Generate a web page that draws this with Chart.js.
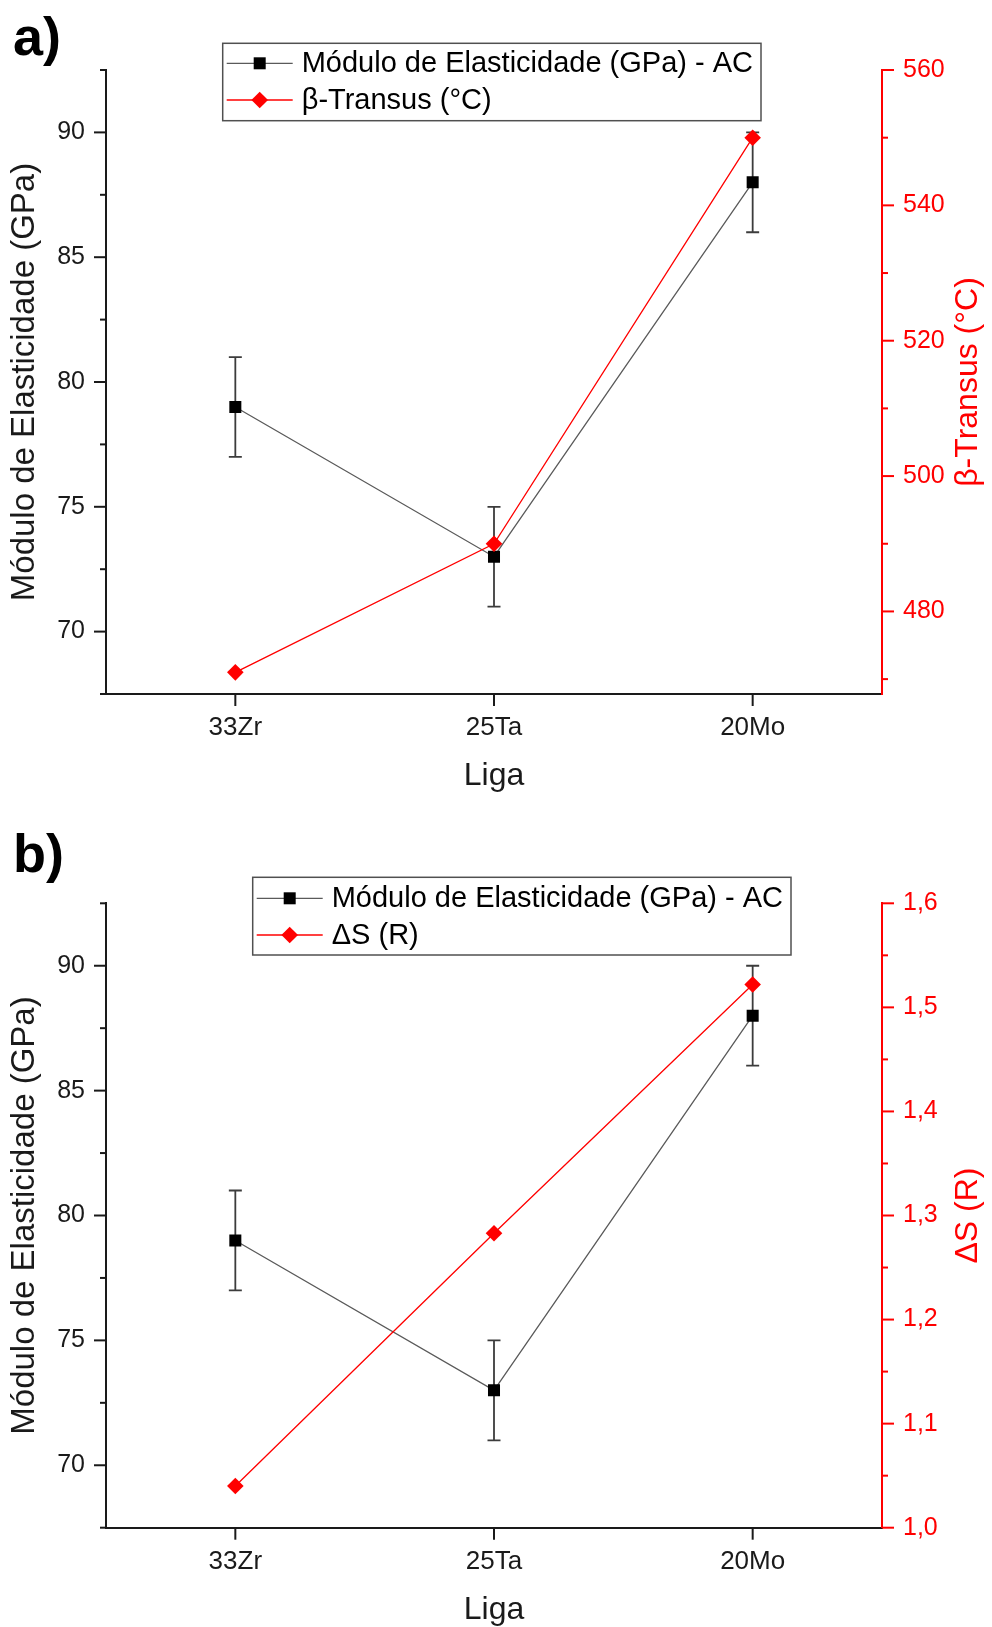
<!DOCTYPE html>
<html>
<head>
<meta charset="utf-8">
<script src="https://cdn.jsdelivr.net/npm/chart.js@4.4.1/dist/chart.umd.min.js"></script>
<style>
  body { margin: 0; background: #fff; }
  canvas { display: block; }
</style>
</head>
<body>
<canvas id="chartA" width="992" height="813"></canvas>
<canvas id="chartB" width="992" height="814"></canvas>
<script>
// data
const categories = ['33Zr', '25Ta', '20Mo'];
const modulus = [79, 73, 88];
const modulusError = [2, 2, 2];
const betaTransus = [471, 490, 550];
const deltaS = [1.04, 1.283, 1.522];

// tick labels
const modulusTicks = [70, 75, 80, 85, 90];
const betaTicks = [480, 500, 520, 540, 560];
const deltaSTicks = [1.0, 1.1, 1.2, 1.3, 1.4, 1.5, 1.6];

const FONT = "'Liberation Sans', Arial, sans-serif";
const RED = '#ff0000';
const INK = '#1a1a1a';

function minorTicks(major, min, max) {
  const step = major[1] - major[0];
  const out = [];
  major.forEach(v => {
    [v - step / 2, v + step / 2].forEach(m => {
      if (m >= min - 1e-9 && m <= max + 1e-9 && !out.some(o => Math.abs(o - m) < 1e-9)) out.push(m);
    });
  });
  return out;
}

const decor = {
  id: 'decor',
  beforeDatasetsDraw(chart) {
    // error bars behind the markers
    const c = chart.ctx, xs = chart.scales.x;
    c.save();
    c.strokeStyle = '#3c3c3c';
    c.lineWidth = 1.8;
    chart.data.datasets.forEach(ds => {
      if (!ds.errors) return;
      const ys = chart.scales[ds.yAxisID];
      ds.data.forEach((v, i) => {
        const px = xs.getPixelForValue(i);
        const top = ys.getPixelForValue(v + ds.errors[i]);
        const bot = ys.getPixelForValue(v - ds.errors[i]);
        c.beginPath();
        c.moveTo(px, top); c.lineTo(px, bot);
        c.moveTo(px - 6.5, top); c.lineTo(px + 6.5, top);
        c.moveTo(px - 6.5, bot); c.lineTo(px + 6.5, bot);
        c.stroke();
      });
    });
    c.restore();
  },
  afterDraw(chart, args, o) {
    const c = chart.ctx, area = chart.chartArea;
    c.save();

    // tick marks, outward
    const tickRun = (scale, values, x0, dir, len) => {
      values.forEach(v => {
        const py = scale.getPixelForValue(v);
        c.beginPath(); c.moveTo(x0, py); c.lineTo(x0 + dir * len, py); c.stroke();
      });
    };
    c.lineWidth = 2;
    c.strokeStyle = INK;
    const yl = chart.scales.y;
    tickRun(yl, o.leftTicks, area.left, -1, 12);
    tickRun(yl, minorTicks(o.leftTicks, yl.min, yl.max), area.left, -1, 6);
    c.strokeStyle = RED;
    const yr = chart.scales.y2;
    tickRun(yr, o.rightTicks, area.right, 1, 12);
    tickRun(yr, minorTicks(o.rightTicks, yr.min, yr.max), area.right, 1, 6);
    c.strokeStyle = INK;
    const xs = chart.scales.x;
    chart.data.labels.forEach((l, i) => {
      const px = xs.getPixelForValue(i);
      c.beginPath(); c.moveTo(px, area.bottom); c.lineTo(px, area.bottom + 12); c.stroke();
    });

    // right axis title, reading bottom to top
    c.translate(968, (area.top + area.bottom) / 2);
    c.rotate(-Math.PI / 2);
    c.fillStyle = RED;
    c.font = '32px ' + FONT;
    c.textAlign = 'center';
    c.textBaseline = 'middle';
    c.fillText(o.rightTitle, 0, 0);
    c.setTransform(1, 0, 0, 1, 0, 0);

    // legend box
    const L = o.legend;
    c.fillStyle = '#fff';
    c.fillRect(L.x, L.y, L.w, L.h);
    c.strokeStyle = '#505050';
    c.lineWidth = 1.5;
    c.strokeRect(L.x, L.y, L.w, L.h);
    chart.data.datasets.forEach((ds, i) => {
      const ry = L.y + L.rows[i];
      c.strokeStyle = ds.borderColor;
      c.lineWidth = 1.3;
      c.beginPath(); c.moveTo(L.x + 4, ry); c.lineTo(L.x + 70, ry); c.stroke();
      const mx = L.x + 37;
      c.fillStyle = ds.pointBackgroundColor;
      c.beginPath();
      if (ds.pointStyle === 'rect') {
        c.rect(mx - 6, ry - 6, 12, 12);
      } else {
        c.moveTo(mx - 8.3, ry); c.lineTo(mx, ry - 8.3); c.lineTo(mx + 8.3, ry); c.lineTo(mx, ry + 8.3);
        c.closePath();
      }
      c.fill();
      c.fillStyle = '#000';
      c.font = '29px ' + FONT;
      c.textAlign = 'left';
      c.textBaseline = 'middle';
      c.fillText(ds.label, L.x + 79, ry + 1);
    });

    // panel label
    c.fillStyle = '#000';
    c.font = 'bold 54px ' + FONT;
    c.textAlign = 'left';
    c.textBaseline = 'alphabetic';
    c.fillText(o.panel, 13, o.panelBaseline);
    c.restore();
  }
};

function makePanel(id, p) {
  return new Chart(document.getElementById(id), {
    type: 'line',
    data: {
      labels: categories,
      datasets: [
        {
          label: 'Módulo de Elasticidade (GPa) - AC',
          data: modulus,
          errors: modulusError,
          yAxisID: 'y',
          order: 1,
          borderColor: '#5a5a5a',
          borderWidth: 1.3,
          pointStyle: 'rect',
          pointRadius: 8.5,
          pointBackgroundColor: '#000',
          pointBorderWidth: 0
        },
        {
          label: p.redLabel,
          data: p.redData,
          yAxisID: 'y2',
          order: 0,
          borderColor: RED,
          borderWidth: 1.3,
          pointStyle: 'rectRot',
          pointRadius: 8.3,
          pointBackgroundColor: RED,
          pointBorderWidth: 0
        }
      ]
    },
    options: {
      responsive: false,
      animation: false,
      devicePixelRatio: 1,
      layout: { padding: { top: p.top, left: 0, right: 0, bottom: 0 } },
      plugins: {
        legend: { display: false },
        tooltip: { enabled: false },
        decor: {
          leftTicks: modulusTicks,
          rightTicks: p.redTicks,
          rightTitle: p.redLabel,
          legend: p.legend,
          panel: p.panel,
          panelBaseline: p.panelBaseline
        }
      },
      scales: {
        x: {
          type: 'category',
          offset: true,
          grid: { display: false, drawTicks: false, offset: false },
          border: { display: true, color: INK, width: 2 },
          ticks: { color: INK, font: { family: FONT, size: 26 }, padding: 18.5 },
          title: {
            display: true, text: 'Liga', color: INK,
            font: { family: FONT, size: 32, lineHeight: 1 },
            padding: { top: 0, bottom: p.xTitlePad }
          },
          afterFit: s => { s.height = p.height - p.bottom; }
        },
        y: {
          position: 'left',
          min: 67.5,
          max: 92.5,
          grid: { display: false, drawTicks: false },
          border: { display: true, color: INK, width: 2 },
          ticks: { color: INK, font: { family: FONT, size: 25 }, padding: 21 },
          afterBuildTicks: s => { s.ticks = modulusTicks.map(v => ({ value: v })); },
          title: {
            display: true, text: 'Módulo de Elasticidade (GPa)', color: INK,
            font: { family: FONT, size: 33, lineHeight: 1 },
            padding: { top: 8.5, bottom: 0 }
          },
          afterFit: s => { s.width = 106; }
        },
        y2: {
          position: 'right',
          min: p.redMin,
          max: p.redMax,
          grid: { display: false, drawTicks: false },
          border: { display: true, color: RED, width: 2 },
          ticks: { color: RED, font: { family: FONT, size: 25 }, padding: 21, callback: p.fmt },
          afterBuildTicks: s => { s.ticks = p.redTicks.map(v => ({ value: v })); },
          afterFit: s => { s.width = 110; }
        }
      }
    },
    plugins: [decor]
  });
}

makePanel('chartA', {
  height: 813, top: 70, bottom: 694, xTitlePad: 21,
  redLabel: 'β-Transus (°C)', redData: betaTransus, redTicks: betaTicks,
  redMin: 467.8, redMax: 560, fmt: v => String(v),
  legend: { x: 222.7, y: 43.3, w: 538.3, h: 77.4, rows: [20, 56.7] },
  panel: 'a)', panelBaseline: 55
});

makePanel('chartB', {
  height: 814, top: 90.3, bottom: 714.7, xTitlePad: 1,
  redLabel: 'ΔS (R)', redData: deltaS, redTicks: deltaSTicks,
  redMin: 1.0, redMax: 1.6, fmt: v => v.toFixed(1).replace('.', ','),
  legend: { x: 252.7, y: 64.3, w: 538.3, h: 77.7, rows: [21, 57.7] },
  panel: 'b)', panelBaseline: 58.7
});
</script>
</body>
</html>
